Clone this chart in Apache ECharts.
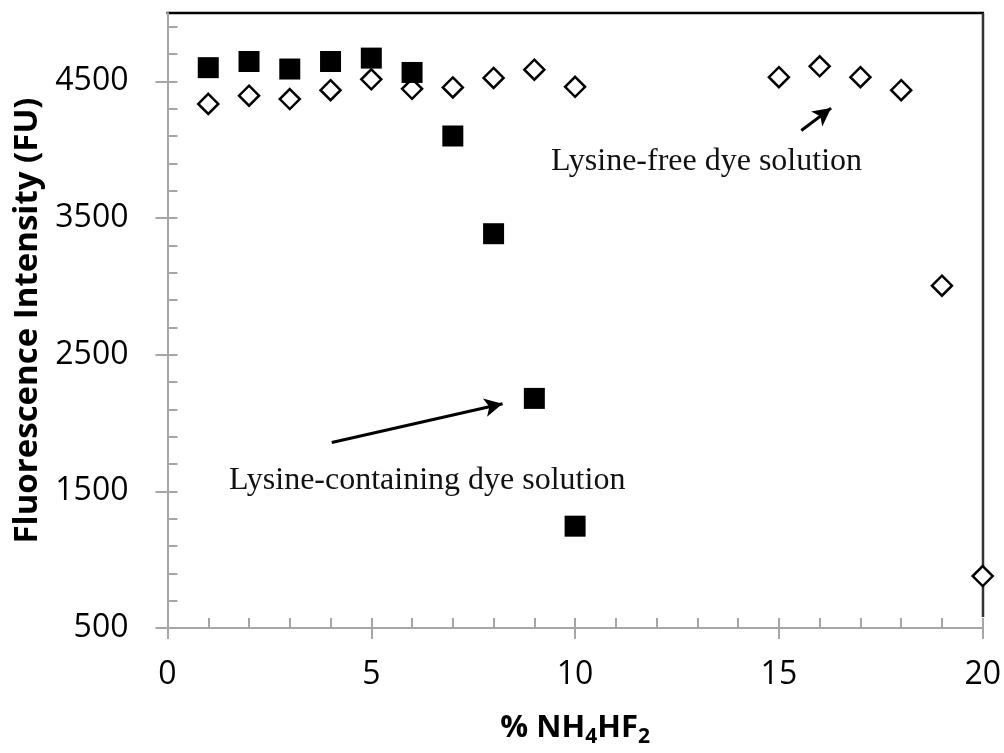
<!DOCTYPE html>
<html>
<head>
<meta charset="utf-8">
<script src="https://cdn.jsdelivr.net/npm/echarts@6/dist/echarts.min.js"></script>
<style>
  html, body { margin: 0; padding: 0; background: #fff; }
  #chart { width: 1004px; height: 753px; }
</style>
</head>
<body>
<div id="chart"></div>
<script>
  // 数据
  const lysineX = [1, 2, 3, 4, 5, 6, 7, 8, 9, 10]
  const lysineY = [4600, 4645, 4590, 4645, 4670, 4565, 4100, 3385, 2180, 1245]
  const freeX = [1, 2, 3, 4, 5, 6, 7, 8, 9, 10, 15, 16, 17, 18, 19, 20]
  const freeY = [4335, 4395, 4370, 4435, 4515, 4445, 4455, 4525, 4585, 4460, 4530, 4610, 4530, 4435, 3005, 880]
  const yMajor = [500, 1500, 2500, 3500, 4500]
  const yMinor = [500, 700, 900, 1100, 1300, 1500, 1700, 1900, 2100, 2300, 2500, 2700, 2900, 3100, 3300, 3500, 3700, 3900, 4100, 4300, 4500, 4700, 4900]
  const notes = ['Lysine-free dye solution', 'Lysine-containing dye solution']
  const arrowFree = [[15.55, 4140], [16.28, 4304]]
  const arrowLys = [[4.03, 1857], [8.22, 2141]]

  const axisGrey = '#a6a6a6'
  const sans = '"Open Sans", "Noto Sans", sans-serif'
  const serif = '"Liberation Serif", "DejaVu Serif", serif'

  let chart = echarts.init(document.getElementById('chart'))

  /*拼散点数据*/
  let pairs = (xs, ys) => xs.map((x, i) => [x, ys[i]])

  let option = {
    animation: false,
    backgroundColor: '#fff',
    grid: { left: 167.5, right: 21, top: 13, bottom: 124 },
    xAxis: [{
      type: 'value', min: 0, max: 20, interval: 5,
      name: '{a|% NH}{b|4}{a|HF}{b|2}',
      nameLocation: 'middle', nameGap: 80,
      nameTextStyle: {
        rich: {
          a: { fontFamily: sans, fontWeight: 'bold', fontSize: 31, color: '#000', lineHeight: 40 },
          b: { fontFamily: sans, fontWeight: 'bold', fontSize: 21, color: '#000', lineHeight: 40, verticalAlign: 'bottom' }
        }
      },
      axisLine: { lineStyle: { color: axisGrey, width: 2 } },
      axisTick: { inside: false, length: 11, lineStyle: { color: axisGrey, width: 2 } },
      axisLabel: { fontFamily: sans, fontSize: 32, color: '#000', margin: 31, formatter: v => String(v) },
      splitLine: { show: false }
    }, {
      type: 'value', min: 0, max: 20, interval: 1, position: 'bottom',
      axisLine: { show: false },
      axisTick: { inside: true, length: 10, lineStyle: { color: axisGrey, width: 2 } },
      axisLabel: { show: false },
      splitLine: { show: false }
    }],
    yAxis: [{
      type: 'value', min: 500, max: 5000,
      name: 'Fluorescence Intensity (FU)',
      nameLocation: 'middle', nameGap: 122,
      nameTextStyle: { fontFamily: sans, fontWeight: 'bold', fontSize: 33, color: '#000' },
      axisLine: { lineStyle: { color: axisGrey, width: 2 } },
      axisTick: { inside: false, length: 12, customValues: yMajor, lineStyle: { color: axisGrey, width: 2 } },
      axisLabel: { fontFamily: sans, fontSize: 32, color: '#000', margin: 39, customValues: yMajor, formatter: v => String(v) },
      splitLine: { show: false }
    }, {
      type: 'value', min: 500, max: 5000, position: 'left',
      axisLine: { show: false },
      axisTick: { inside: true, length: 10, customValues: yMinor, lineStyle: { color: axisGrey, width: 2 } },
      axisLabel: { show: false },
      splitLine: { show: false }
    }],
    graphic: [
      { type: 'line', z: 0, shape: { x1: 166.5, y1: 13, x2: 984, y2: 13 }, style: { stroke: '#000', lineWidth: 2.5 } },
      { type: 'line', z: 0, shape: { x1: 983, y1: 13, x2: 983, y2: 617 }, style: { stroke: '#333', lineWidth: 2.5 } },
      { type: 'text', z: 20, style: { text: notes[0], x: 551, y: 162, verticalAlign: 'middle', font: '32px ' + serif, fill: '#111' } },
      { type: 'text', z: 20, style: { text: notes[1], x: 229, y: 481, verticalAlign: 'middle', font: '32px ' + serif, fill: '#111' } }
    ],
    series: [{
      name: 'Lysine-free',
      type: 'scatter', z: 10, clip: false,
      data: pairs(freeX, freeY),
      symbol: 'diamond', symbolSize: 20,
      itemStyle: { color: '#fff', borderColor: '#000', borderWidth: 2.5, opacity: 1 },
      markLine: {
        silent: true, symbol: ['none', 'arrow'], symbolSize: [14, 18],
        label: { show: false },
        lineStyle: { color: '#000', width: 3, type: 'solid' },
        data: [
          [{ coord: arrowFree[0] }, { coord: arrowFree[1] }],
          [{ coord: arrowLys[0] }, { coord: arrowLys[1] }]
        ]
      }
    }, {
      name: 'Lysine-containing',
      type: 'scatter', z: 11, clip: false,
      data: pairs(lysineX, lysineY),
      symbol: 'rect', symbolSize: 21,
      itemStyle: { color: '#000', opacity: 1 }
    }]
  }
  chart.setOption(option)
</script>
</body>
</html>
